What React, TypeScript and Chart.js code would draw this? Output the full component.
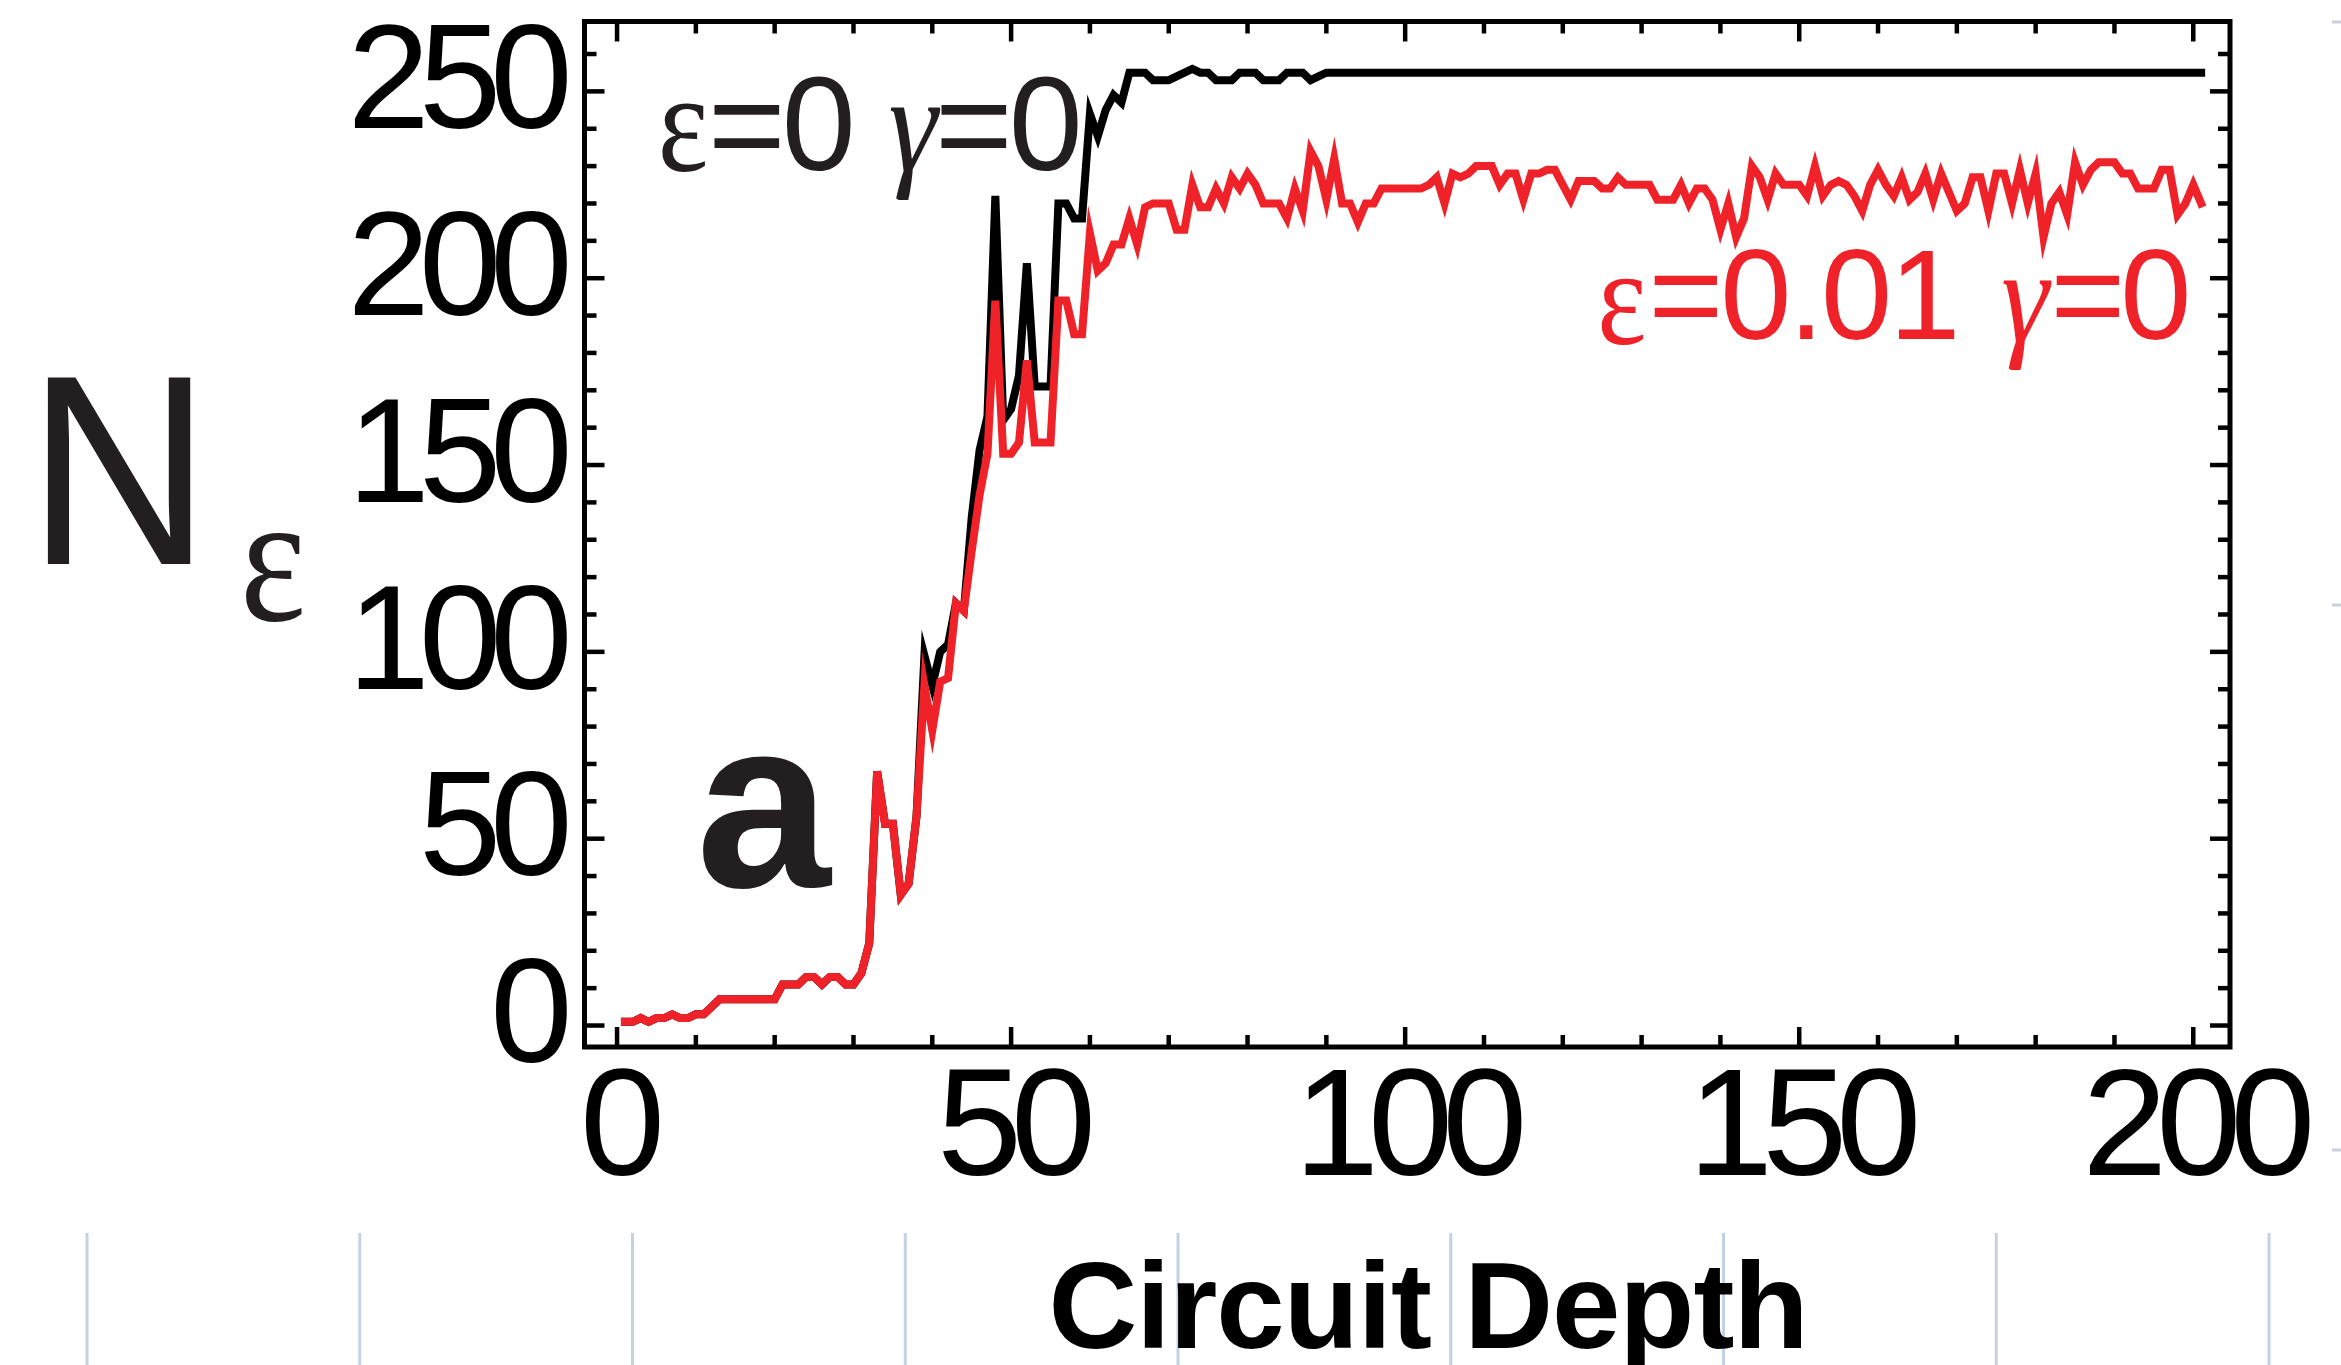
import React, { useEffect, useRef } from 'react';
import { Chart, registerables } from 'chart.js';

Chart.register(...registerables);

// ---------------- data ----------------
const depthStart = 1;
const depthCount = 201;
const depths: number[] = Array.from({ length: depthCount }, (_, i) => depthStart + i);

// N_eps for eps = 0.01, gamma = 0 (red)
const nEpsNoisy: number[] = [
  1, 1, 2, 1, 2, 2, 3, 2, 2, 3,
  3, 5, 7, 7, 7, 7, 7, 7, 7, 7,
  11, 11, 11, 13, 13, 11, 13, 13, 11, 11,
  14, 22, 68, 54, 54, 35, 38, 56, 91, 79,
  92, 93, 113, 111, 127, 142, 153, 194, 153, 153,
  156, 178, 156, 156, 156, 194, 194, 185, 185, 212,
  202, 204, 209, 209, 216, 209, 219, 220, 220, 220,
  213, 213, 225, 219, 219, 224, 220, 227, 224, 228,
  225, 220, 220, 220, 216, 224, 218, 234, 230, 221,
  232, 220, 220, 215, 220, 220, 224, 224, 224, 224,
  224, 224, 225, 227, 220, 228, 227, 228, 230, 230,
  230, 225, 228, 228, 221, 228, 228, 229, 229, 225,
  221, 226, 226, 226, 224, 224, 227, 225, 225, 225,
  225, 221, 221, 221, 225, 220, 224, 224, 221, 213,
  220, 211, 216, 230, 227, 221, 228, 225, 225, 225,
  222, 230, 222, 225, 226, 225, 222, 218, 225, 229,
  225, 222, 227, 221, 223, 228, 221, 228, 223, 218,
  220, 227, 227, 218, 228, 228, 220, 229, 220, 228,
  211, 220, 223, 217, 231, 225, 229, 231, 231, 231,
  228, 228, 224, 224, 224, 229, 229, 217, 220, 225,
  220,
];

// N_eps for eps = 0, gamma = 0 (black)
const nEpsIdeal: number[] = [
  1, 1, 2, 1, 2, 2, 3, 2, 2, 3,
  3, 5, 7, 7, 7, 7, 7, 7, 7, 7,
  11, 11, 11, 13, 13, 11, 13, 13, 11, 11,
  14, 22, 68, 54, 54, 35, 38, 56, 99, 91,
  100, 102, 113, 111, 136, 154, 163, 222, 162, 165,
  174, 204, 171, 171, 171, 220, 220, 216, 216, 244,
  238, 245, 249, 247, 255, 255, 255, 253, 253, 253,
  254, 255, 256, 255, 255, 253, 253, 253, 255, 255,
  255, 253, 253, 253, 255, 255, 255, 253, 254, 255,
  255, 255, 255, 255, 255, 255, 255, 255, 255, 255,
  255, 255, 255, 255, 255, 255, 255, 255, 255, 255,
  255, 255, 255, 255, 255, 255, 255, 255, 255, 255,
  255, 255, 255, 255, 255, 255, 255, 255, 255, 255,
  255, 255, 255, 255, 255, 255, 255, 255, 255, 255,
  255, 255, 255, 255, 255, 255, 255, 255, 255, 255,
  255, 255, 255, 255, 255, 255, 255, 255, 255, 255,
  255, 255, 255, 255, 255, 255, 255, 255, 255, 255,
  255, 255, 255, 255, 255, 255, 255, 255, 255, 255,
  255, 255, 255, 255, 255, 255, 255, 255, 255, 255,
  255, 255, 255, 255, 255, 255, 255, 255, 255, 255,
  255,
];

const xTickLabels: number[] = [0, 50, 100, 150, 200];
const yTickLabels: number[] = [0, 50, 100, 150, 200, 250];
const xMinorStep = 10;
const yMinorStep = 10;
const xTickMax = 200;
const yTickMax = 260;

const labelIdeal = 'ε=0 γ=0';
const labelNoisy = 'ε=0.01 γ=0';
const xTitle = 'Circuit Depth';
const panelLetter = 'a';

// ---------------- styles ----------------
const W = 2341;
const H = 1365;
const RED = '#EE2228';
const INK = '#231F20';
const LINE_W = 8;
const SANS = '"Liberation Sans", Arial, Helvetica, sans-serif';
const SERIF = '"Liberation Serif", "Times New Roman", serif';

function drawText(
  ctx: CanvasRenderingContext2D,
  s: string,
  x: number,
  y: number,
  font: string,
  color: string,
  align: CanvasTextAlign = 'left',
  sx = 1,
  ls = 0
) {
  ctx.save();
  ctx.font = font;
  ctx.fillStyle = color;
  ctx.textAlign = align;
  ctx.textBaseline = 'alphabetic';
  (ctx as any).letterSpacing = `${ls}px`;
  ctx.translate(x, y);
  ctx.scale(sx, 1);
  ctx.fillText(s, 0, 0);
  ctx.restore();
}

const decorPlugin = {
  id: 'decor',
  beforeDraw(chart: any) {
    const ctx = chart.ctx;
    ctx.save();
    ctx.fillStyle = '#ffffff';
    ctx.fillRect(0, 0, chart.width, chart.height);
    ctx.restore();
    (ctx as any).letterSpacing = '-11px';
  },
  afterDatasetsDraw(chart: any) {
    (chart.ctx as any).letterSpacing = '-14px';
  },
  afterDraw(chart: any) {
    const ctx: CanvasRenderingContext2D = chart.ctx;
    (ctx as any).letterSpacing = '0px';
    const a = chart.chartArea;
    const xs = chart.scales.x;
    const ys = chart.scales.y;
    ctx.save();
    // faint page lines at bottom
    ctx.strokeStyle = '#c3d0e6';
    ctx.lineWidth = 3;
    for (let i = 0; i < 9; i++) {
      const px = 87 + i * 272.75;
      ctx.beginPath();
      ctx.moveTo(px, 1233);
      ctx.lineTo(px, H);
      ctx.stroke();
    }
    ctx.strokeStyle = '#c8d0dc';
    [22, 605, 1150].forEach((py) => {
      ctx.beginPath();
      ctx.moveTo(2332, py);
      ctx.lineTo(W, py);
      ctx.stroke();
    });

    // frame
    ctx.strokeStyle = '#000';
    ctx.lineWidth = 5;
    ctx.strokeRect(a.left, a.top, a.right - a.left, a.bottom - a.top);
    // inward ticks
    ctx.lineWidth = 4.5;
    const seg = (x1: number, y1: number, x2: number, y2: number) => {
      ctx.beginPath();
      ctx.moveTo(x1, y1);
      ctx.lineTo(x2, y2);
      ctx.stroke();
    };
    for (let v = 0; v <= xTickMax; v += xMinorStep) {
      const px = xs.getPixelForValue(v);
      const len = xTickLabels.includes(v) ? 20 : 12;
      seg(px, a.bottom, px, a.bottom - len);
      seg(px, a.top, px, a.top + len);
    }
    for (let v = 0; v <= yTickMax; v += yMinorStep) {
      const py = ys.getPixelForValue(v);
      const len = yTickLabels.includes(v) ? 20 : 12;
      seg(a.left, py, a.left + len, py);
      seg(a.right, py, a.right - len, py);
    }
    ctx.restore();

    // y axis title N_eps
    drawText(ctx, 'N', 27, 564, `271px ${SANS}`, INK, 'left', 0.94);
    drawText(ctx, 'ε', 273, 620, `185px ${SERIF}`, INK, 'center', 0.85);

    // panel letter
    drawText(ctx, panelLetter, 696, 887, `bold 242px ${SANS}`, INK, 'left');

    // black annotation  ε=0 γ=0
    const [iEps, iGam] = labelIdeal.split(' ');
    drawText(ctx, iEps[0], 683, 171, `142px ${SERIF}`, INK, 'center', 0.85);
    drawText(ctx, iEps.slice(1), 708, 169.5, `133px ${SANS}`, INK, 'left', 1, -4);
    drawText(ctx, iGam[0], 913, 171, `italic 138px ${SERIF}`, INK, 'center', 0.9);
    drawText(ctx, iGam.slice(1), 935, 169.5, `133px ${SANS}`, INK, 'left', 1, -4);

    // red annotation  ε=0.01 γ=0
    const [nEps, nGam] = labelNoisy.split(' ');
    drawText(ctx, nEps[0], 1622, 344, `138px ${SERIF}`, RED, 'center', 0.85);
    drawText(ctx, nEps.slice(1), 1648.6, 339, `128px ${SANS}`, RED, 'left', 1, -3);
    drawText(ctx, nGam[0], 2025, 342, `italic 134px ${SERIF}`, RED, 'center', 0.9);
    drawText(ctx, nGam.slice(1), 2050.6, 339, `128px ${SANS}`, RED, 'left', 1, -5);

    // x axis title
    drawText(ctx, xTitle, 1428, 1348, `bold 123px ${SANS}`, '#000', 'center', 1, -1);
  },
};

export default function App() {
  const ref = useRef<HTMLCanvasElement | null>(null);

  useEffect(() => {
    if (!ref.current) return;
    const chart = new Chart(ref.current, {
      type: 'line',
      data: {
        datasets: [
          {
            label: labelNoisy,
            data: depths.map((d, i) => ({ x: d, y: nEpsNoisy[i] })),
            borderColor: RED,
            borderWidth: LINE_W,
            pointRadius: 0,
            tension: 0,
            borderJoinStyle: 'miter',
            borderCapStyle: 'square',
            fill: false,
          },
          {
            label: labelIdeal,
            data: depths.map((d, i) => ({ x: d, y: nEpsIdeal[i] })),
            borderColor: '#000000',
            borderWidth: LINE_W,
            pointRadius: 0,
            tension: 0,
            borderJoinStyle: 'miter',
            borderCapStyle: 'square',
            fill: false,
          },
        ],
      },
      options: {
        animation: false,
        responsive: false,
        devicePixelRatio: 1,
        elements: { line: { borderWidth: LINE_W } },
        layout: { padding: { left: 0, top: 21.5, right: W - 2230, bottom: 0 } },
        plugins: {
          legend: { display: false },
          tooltip: { enabled: false },
        },
        scales: {
          x: {
            type: 'linear',
            min: -4.13,
            max: 204.66,
            z: 1,
            afterBuildTicks: (s: any) => {
              s.ticks = xTickLabels.map((v) => ({ value: v }));
            },
            afterFit: (s: any) => {
              s.height = H - 1047;
              s.paddingLeft = 0;
              s.paddingRight = 0;
            },
            grid: { display: false, drawTicks: false },
            border: { display: false },
            ticks: {
              color: '#000',
              font: { family: SANS, size: 153, lineHeight: 1 },
              padding: 9,
              maxRotation: 0,
              minRotation: 0,
              autoSkip: false,
            },
          },
          y: {
            type: 'linear',
            min: -5.75,
            max: 268.7,
            z: 0,
            afterBuildTicks: (s: any) => {
              s.ticks = yTickLabels.map((v) => ({ value: v }));
            },
            afterFit: (s: any) => {
              s.width = 584.5;
              s.paddingTop = 0;
              s.paddingBottom = 0;
            },
            grid: { display: false, drawTicks: false },
            border: { display: false },
            ticks: {
              color: '#000',
              font: { family: SANS, size: 148, lineHeight: 1 },
              padding: 23,
              labelOffset: -4,
              autoSkip: false,
            },
          },
        },
      } as any,
      plugins: [decorPlugin],
    });
    return () => chart.destroy();
  }, []);

  return (
    <div style={{ position: 'fixed', left: 0, top: 0, width: W, height: H, background: '#fff' }}>
      <canvas ref={ref} width={W} height={H} style={{ display: 'block', width: W, height: H }} />
    </div>
  );
}
